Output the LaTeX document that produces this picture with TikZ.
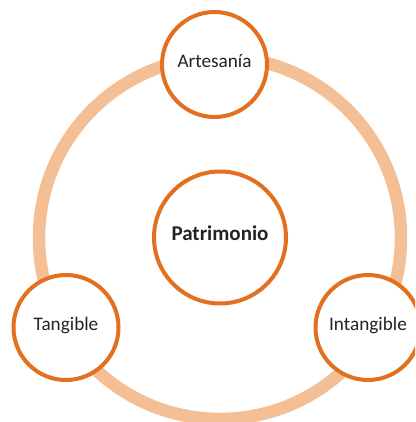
\documentclass[tikz,border=0pt]{standalone}
\usepackage{fontspec}
\setmainfont{Carlito}
\definecolor{ringpeach}{HTML}{F4BF94}
\definecolor{rimorange}{HTML}{E2701F}
\definecolor{inkgray}{HTML}{232323}
\begin{document}
\begin{tikzpicture}[x=1pt,y=-1pt,
  ring/.style={circle, draw=ringpeach, line width=12.5pt, minimum size=362pt, inner sep=0pt},
  bubble/.style={circle, draw=rimorange, fill=white, line width=4pt, inner sep=0pt,
    minimum size=105pt, text=inkgray, font=\fontsize{19.2}{23}\selectfont,
    text height=0.64em, text depth=0pt},
  hub/.style={bubble, minimum size=132pt, font=\bfseries\fontsize{21}{25}\selectfont}]
  \useasboundingbox (0,0) rectangle (415,422);
  \begin{scope}
    \clip (0,0) rectangle (415,422);
    % outer ring linking the three aspects
    \node[ring] (loop) at (220,238) {};
    % central concept and its three aspects
    \node[hub] (patrimonio) at (220,237.5) {Patrimonio};
    \node[bubble] (artesania) at (214.5,64.5) {Artesanía};
    \node[bubble] (tangible) at (66,327.5) {Tangible};
    \node[bubble] (intangible) at (368,327.5) {Intangible};
  \end{scope}
\end{tikzpicture}
\end{document}
